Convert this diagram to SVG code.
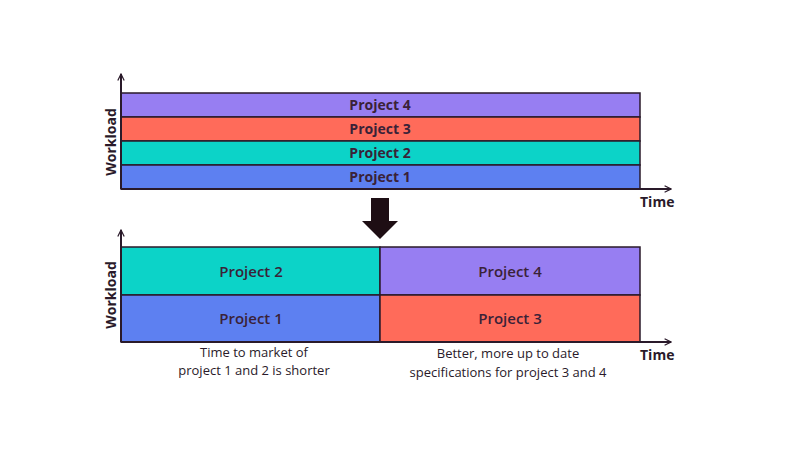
<svg xmlns="http://www.w3.org/2000/svg" width="800" height="450" viewBox="0 0 800 450">
<defs>
<style>
.b{stroke:#2a1a2a;stroke-width:1.5}
.t{font-family:"Open Sans","Liberation Sans",sans-serif;fill:#3a2238;text-anchor:middle}
.s{font-size:14px;font-weight:bold}
.m{font-size:15px;font-weight:600}
.ax{stroke:#2a1a2a;stroke-width:2;fill:none}
.lab{font-family:"Open Sans","Liberation Sans",sans-serif;fill:#2a1a2a;font-weight:bold;font-size:14px}
.c{font-family:"Open Sans","Liberation Sans",sans-serif;fill:#2a1a2a;font-size:13px;text-anchor:middle}
</style>
<marker id="ah" viewBox="0 0 10 10" refX="9" refY="5" markerWidth="8" markerHeight="8" markerUnits="userSpaceOnUse" orient="auto"><path d="M1,1 L9,5 L1,9" fill="none" stroke="#2a1a2a" stroke-width="1.5"/></marker>
</defs>
<rect width="800" height="450" fill="#fff"/>
<g id="top-p4"><rect class="b" x="121" y="93" width="519" height="24" fill="#977EF2"/><text class="t s" x="380" y="110">Project 4</text></g>
<g id="top-p3"><rect class="b" x="121" y="117" width="519" height="24" fill="#FF6B5A"/><text class="t s" x="380" y="134">Project 3</text></g>
<g id="top-p2"><rect class="b" x="121" y="141" width="519" height="24" fill="#0CD3C8"/><text class="t s" x="380" y="158">Project 2</text></g>
<g id="top-p1"><rect class="b" x="121" y="165" width="519" height="24" fill="#5D80F1"/><text class="t s" x="380" y="182">Project 1</text></g>
<g id="bot-p2"><rect class="b" x="121" y="247" width="259" height="48" fill="#0CD3C8"/><text class="t m" x="251" y="277">Project 2</text></g>
<g id="bot-p1"><rect class="b" x="121" y="295" width="259" height="47" fill="#5D80F1"/><text class="t m" x="251" y="324">Project 1</text></g>
<g id="bot-p4"><rect class="b" x="380" y="247" width="260" height="48" fill="#977EF2"/><text class="t m" x="510" y="277">Project 4</text></g>
<g id="bot-p3"><rect class="b" x="380" y="295" width="260" height="47" fill="#FF6B5A"/><text class="t m" x="510" y="324">Project 3</text></g>
<g id="connectors">
<path class="ax" d="M121,189 L121,74" marker-end="url(#ah)"/>
<path class="ax" d="M121,189 L671,189" marker-end="url(#ah)"/>
<path class="ax" d="M121,342 L121,230" marker-end="url(#ah)"/>
<path class="ax" d="M121,342 L671,342" marker-end="url(#ah)"/>
<path d="M371,198 H389 V221 H398 L380,239 L362,221 H371 Z" fill="#1e0e14"/>
</g>
<text class="lab" transform="translate(116,142) rotate(-90)" text-anchor="middle">Workload</text>
<text class="lab" transform="translate(116,295) rotate(-90)" text-anchor="middle">Workload</text>
<text class="lab" x="640" y="207">Time</text>
<text class="lab" x="640" y="360">Time</text>
<text class="c" x="254" y="357">Time to market of</text>
<text class="c" x="254" y="375">project 1 and 2 is shorter</text>
<text class="c" x="508" y="358">Better, more up to date</text>
<text class="c" x="508" y="377">specifications for project 3 and 4</text>
</svg>
